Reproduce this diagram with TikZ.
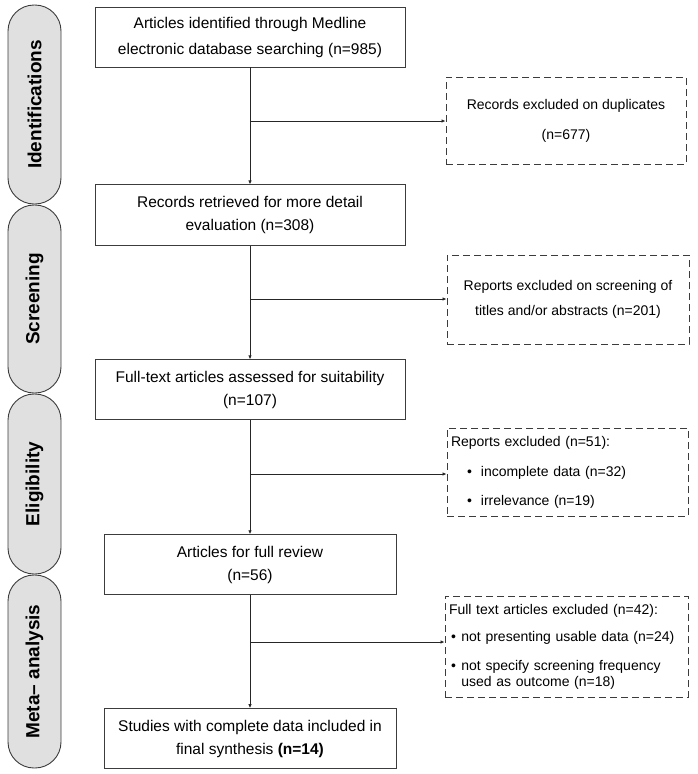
\documentclass[tikz,border=0pt]{standalone}
\usepackage{fontspec}
\setmainfont{Liberation Sans}
\usetikzlibrary{positioning}
\usetikzlibrary{arrows.meta}
\definecolor{tabgray}{HTML}{E0E0E0}
\definecolor{edgegray}{HTML}{3C3C3C}

\begin{document}
\begin{tikzpicture}[x=1pt, y=1pt,
    stage/.style={draw=edgegray, line width=0.9pt, fill=tabgray, rounded corners=26pt,
        rotate=90, minimum height=53pt, inner sep=0pt, font=\fontsize{19}{22}\selectfont\bfseries},
    mainbox/.style={draw=edgegray, line width=0.9pt, minimum height=60pt, align=center,
        inner sep=2pt, font=\fontsize{15.5}{23}\selectfont},
    exclbox/.style={draw=edgegray, line width=0.9pt, dash pattern=on 7pt off 4pt,
        inner sep=4pt, font=\fontsize{14}{16}\selectfont},
    flow/.style={-{Latex[length=4pt,width=3.5pt]}, line width=0.8pt, draw=black!85}]
    \useasboundingbox (0,0) rectangle (697,-774);

    % phases on the left
    \node[stage, minimum width=199pt] (idf) at (34.5,-104.5) {Identifications};
    \node[stage, minimum width=188pt] (scr) at (34.5,-299) {Screening};
    \node[stage, minimum width=180pt] (elg) at (34.5,-484) {Eligibility};
    \node[stage, minimum width=193pt] (meta) at (34.5,-671.5) {Meta-- analysis};

    % main column
    \node[mainbox, minimum width=310pt] (ident) at (250,-37)
        {Articles identified through Medline\\[3pt]electronic database searching (n=985)};
    \node[mainbox, minimum width=310pt, minimum height=61pt, below=117pt of ident] (retr)
        {Records retrieved for more detail\\evaluation (n=308)};
    \node[mainbox, minimum width=310pt, below=113pt of retr] (full)
        {Full-text articles assessed for suitability\\(n=107)};
    \node[mainbox, minimum width=292pt, below=114pt of full] (review)
        {Articles for full review\\(n=56)};
    \node[mainbox, minimum width=292pt, below=113pt of review] (final)
        {Studies with complete data included in\\final synthesis \textbf{(n=14)}};

    % excluded records
    \node[exclbox, minimum width=240pt, minimum height=87pt, align=center] (dup) at (566,-120.5)
        {Records excluded on duplicates\\[14pt](n=677)};
    \node[exclbox, minimum width=242pt, minimum height=89pt, align=center] (title) at (568,-299.5)
        {Reports excluded on screening of\\[9pt]titles and/or abstracts (n=201)};
    \node[exclbox, text width=233pt, minimum height=88pt, align=left] (elim) at (567.5,-472)
        {Reports excluded (n=51):\\[14pt]
        \hspace*{16pt}\textbullet\hspace{9pt}incomplete data (n=32)\\[13pt]
        \hspace*{16pt}\textbullet\hspace{9pt}irrelevance (n=19)};
    \node[exclbox, text width=235pt, minimum height=101pt, align=left] (nouse) at (566.5,-646.5)
        {Full text articles excluded (n=42):\\[11pt]
        \hspace*{2pt}\textbullet\hspace{5.5pt}not presenting usable data (n=24)\\[13pt]
        \hspace*{2pt}\textbullet\hspace{5.5pt}not specify screening frequency\\
        \hspace*{2pt}\phantom{\textbullet\hspace{5.5pt}}used as outcome (n=18)};

    % branch points
    \coordinate (b1) at (250,-121);
    \coordinate (b2) at (250,-299);
    \coordinate (b3) at (250,-474);
    \coordinate (b4) at (250,-642);

    \draw[flow] (ident) -- (retr);
    \draw[flow] (retr) -- (full);
    \draw[flow] (full) -- (review);
    \draw[flow] (review) -- (final);
    \draw[flow] (b1) -- (b1 -| dup.west);
    \draw[flow] (b2) -- (b2 -| title.west);
    \draw[flow] (b3) -- (b3 -| elim.west);
    \draw[flow] (b4) -- (b4 -| nouse.west);
\end{tikzpicture}
\end{document}
